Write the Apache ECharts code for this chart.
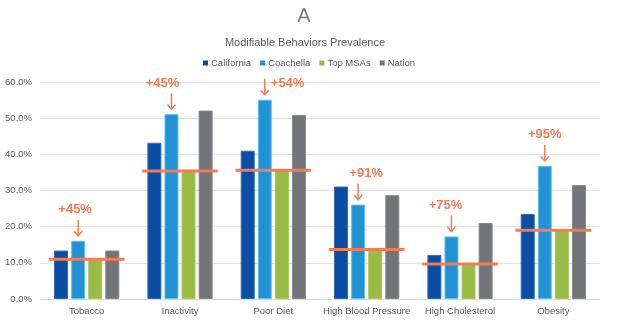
<!DOCTYPE html>
<html>
<head>
<meta charset="utf-8">
<script src="https://cdn.jsdelivr.net/npm/echarts@6/dist/echarts.min.js"></script>
<style>
  html, body { margin: 0; padding: 0; background: #fff; }
  #chart { width: 624px; height: 328px; }
</style>
</head>
<body>
<div id="chart"></div>
<script>
// Categories and prevalence values (percent)
const categories = ['Tobacco', 'Inactivity', 'Poor Diet', 'High Blood Pressure', 'High Cholesterol', 'Obesity'];
const california = [13.4, 43.2, 41.0, 31.1, 12.2, 23.5];
const coachella  = [16.1, 51.1, 55.1, 26.1, 17.3, 36.8];
const topMSAs    = [11.0, 35.4, 35.6, 13.7, 9.7, 19.0];
const nation     = [13.4, 52.1, 50.9, 28.7, 21.0, 31.5];
// Coachella vs. Top MSAs difference callouts
const callouts   = ['+45%', '+45%', '+54%', '+91%', '+75%', '+95%'];
const yTicks = [0, 10, 20, 30, 40, 50, 60];

// Callout text placement relative to the arrow (styling only)
const calloutShift = [-3, -9, 0, 8, -6, 0];
const calloutSide  = ['top', 'top', 'right', 'top', 'top', 'top'];

const ORANGE = '#F47B52';
const FONT = '"Liberation Sans", Arial, Helvetica, sans-serif';

const chart = echarts.init(document.getElementById('chart'), null, { renderer: 'canvas' });

function barSeries(name, data, color, border) {
  return {
    name, type: 'bar', data,
    barWidth: 14, barGap: '22%',
    itemStyle: { color, borderColor: border, borderWidth: 1 },
    emphasis: { disabled: true },
    z: 2
  };
}

chart.setOption({
  animation: false,
  textStyle: { fontFamily: FONT },
  title: [
    {
      text: 'A', left: 304, top: 6, textAlign: 'center', padding: 0,
      textStyle: { fontSize: 20, fontWeight: 'lighter', color: '#7a7a7a', fontFamily: FONT }
    },
    {
      text: 'Modifiable Behaviors Prevalence', left: 305, top: 37, textAlign: 'center', padding: 0,
      textStyle: { fontSize: 11, fontWeight: 'normal', color: '#595959', fontFamily: FONT }
    }
  ],
  legend: {
    top: 58, left: 203, padding: 0,
    itemWidth: 5, itemHeight: 5, itemGap: 9,
    icon: 'rect',
    itemStyle: { borderWidth: 0 },
    textStyle: { fontSize: 9.5, color: '#595959', fontFamily: FONT, padding: [0, 0, 0, -2] },
    data: ['California', 'Coachella', 'Top MSAs', 'Nation']
  },
  grid: { left: 40, right: 24, top: 82, bottom: 29 },
  xAxis: {
    type: 'category', data: categories,
    axisLine: { lineStyle: { color: '#D9D9D9', width: 1 } },
    axisTick: { show: false },
    axisLabel: { fontSize: 9.5, color: '#595959', margin: 7, interval: 0 }
  },
  yAxis: {
    type: 'value', min: yTicks[0], max: yTicks[yTicks.length - 1], interval: 10,
    axisLine: { show: false },
    axisTick: { show: false },
    axisLabel: { fontSize: 9.5, color: '#595959', margin: 8, formatter: v => v.toFixed(1) + '%' },
    splitLine: { lineStyle: { color: '#E3E3E3', width: 1 } }
  },
  series: [
    barSeries('California', california, '#0A4DA3', '#2F6BB8'),
    barSeries('Coachella', coachella, '#2292D4', '#5CC3EE'),
    barSeries('Top MSAs', topMSAs, '#9BBB47', '#A9C65E'),
    barSeries('Nation', nation, '#737578', '#86888B'),
    {
      // Top MSAs benchmark line across each category
      type: 'custom', name: 'benchmark',
      data: topMSAs.map((v, i) => [i, v]),
      z: 5, silent: true,
      renderItem(params, api) {
        const p = api.coord([api.value(0), api.value(1)]);
        const band = api.size([1, 0])[0];
        const half = band * 0.405;
        return {
          type: 'line',
          shape: { x1: p[0] - half, y1: p[1], x2: p[0] + half, y2: p[1] },
          style: { stroke: ORANGE, lineWidth: 3 }
        };
      }
    },
    {
      // Arrows and percentage callouts above the Coachella bars
      type: 'custom', name: 'callouts',
      data: coachella.map((v, i) => [i, v]),
      z: 6, silent: true,
      renderItem(params, api) {
        const i = params.dataIndex;
        const p = api.coord([api.value(0), api.value(1)]);
        // Coachella is the 2nd of 4 bars: offset from band centre
        const x = p[0] - (14 + 3.1) / 2;
        const yEnd = p[1] - 5;
        const yStart = yEnd - 16;
        const children = [
          { type: 'line', shape: { x1: x, y1: yStart, x2: x, y2: yEnd }, style: { stroke: ORANGE, lineWidth: 1.5 } },
          { type: 'polyline', shape: { points: [[x - 4, yEnd - 4.5], [x, yEnd], [x + 4, yEnd - 4.5]] }, style: { stroke: ORANGE, lineWidth: 1.5, fill: null } }
        ];
        const label = calloutSide[i] === 'right'
          ? { x: x + 6, y: yStart + 5, align: 'left' }
          : { x: x + calloutShift[i], y: yStart - 10, align: 'center' };
        children.push({
          type: 'text',
          style: {
            x: label.x, y: label.y, text: callouts[i],
            fill: ORANGE, font: 'bold 13px ' + FONT,
            textAlign: label.align, textVerticalAlign: 'middle'
          }
        });
        return { type: 'group', children };
      }
    }
  ]
});
</script>
</body>
</html>
